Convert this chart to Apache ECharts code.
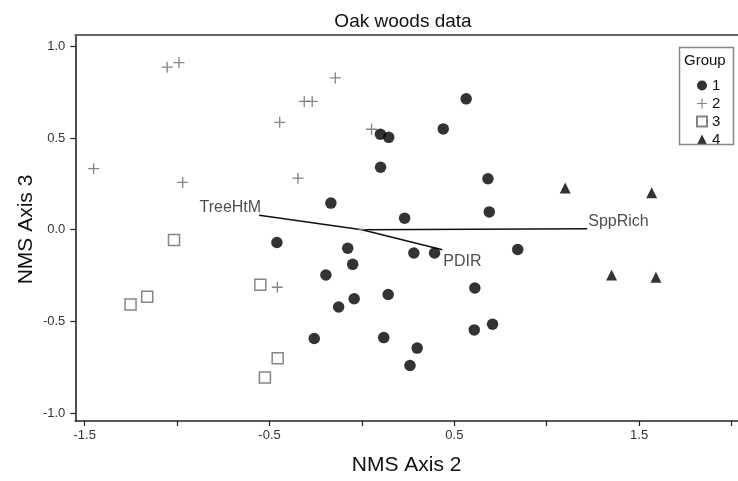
<!DOCTYPE html>
<html>
<head>
<meta charset="utf-8">
<script src="https://cdn.jsdelivr.net/npm/echarts@6/dist/echarts.min.js"></script>
<style>
html,body{margin:0;padding:0;background:#fff;}
#chart{width:738px;height:481px;}
</style>
</head>
<body>
<div id="chart"></div>
<script>
// ---- Data ----
const group1X = [0.564, 0.440, 0.100, 0.145, 0.101, 0.682, -0.168, 0.689, 0.231, -0.460, -0.077, 0.281, 0.393, 0.843, -0.050, -0.195, 0.611, 0.142, -0.042, -0.126, 0.707, 0.608, -0.258, 0.118, 0.299, 0.260];
const group1Y = [0.714, 0.550, 0.521, 0.504, 0.341, 0.278, 0.145, 0.097, 0.063, -0.070, -0.101, -0.127, -0.127, -0.108, -0.189, -0.247, -0.318, -0.354, -0.377, -0.422, -0.516, -0.547, -0.594, -0.589, -0.646, -0.741];
const group2X = [-1.054, -0.990, -0.144, -0.312, -0.269, -0.445, 0.052, -1.452, -0.970, -0.346, -0.458];
const group2Y = [0.887, 0.912, 0.828, 0.700, 0.700, 0.586, 0.548, 0.333, 0.258, 0.281, -0.314];
const group3X = [-1.017, -1.162, -1.252, -0.550, -0.456, -0.525];
const group3Y = [-0.056, -0.366, -0.408, -0.301, -0.702, -0.806];
const group4X = [1.100, 1.568, 1.351, 1.591];
const group4Y = [0.227, 0.202, -0.247, -0.260];
const groupNames = ['1', '2', '3', '4'];
const vectorNames = ['TreeHtM', 'SppRich', 'PDIR'];
const vectorX = [-0.556, 1.219, 0.435];
const vectorY = [0.079, 0.005, -0.110];
const xTickValues = [-1.5, -1.0, -0.5, 0.0, 0.5, 1.0, 1.5, 2.0];
const xLabelValues = [-1.5, -0.5, 0.5, 1.5];
const yTickValues = [-1.0, -0.5, 0.0, 0.5, 1.0];
const titleText = 'Oak woods data';
const xName = 'NMS Axis 2';
const yName = 'NMS Axis 3';
const legendTitle = 'Group';

const X_MIN = -1.551, X_MAX = 2.035, Y_MIN = -1.044, Y_MAX = 1.064;
const FONT = 'Liberation Sans, Arial, sans-serif';
const PLUS = 'path://M4.4,0H5.6V4.4H10V5.6H5.6V10H4.4V5.6H0V4.4H4.4Z';

const zip = (xs, ys) => xs.map((x, i) => [x, ys[i]]);

const vectorLabelCfg = [
  { position: 'left', distance: 0, offset: [2, -8] },
  { position: 'right', distance: 1, offset: [0, -7] },
  { position: 'right', distance: 1, offset: [0, 12] }
];

const series = [];
vectorNames.forEach((n, i) => {
  series.push({
    type: 'line', name: 'vec_' + n, data: [[0, 0], [vectorX[i], vectorY[i]]],
    symbol: 'none', silent: true, z: 1,
    lineStyle: { color: '#111', width: 1.6 }
  });
});
series.push({
  type: 'scatter', name: 'vecLabels', z: 3, silent: true,
  data: vectorNames.map((n, i) => ({
    value: [vectorX[i], vectorY[i]], name: n,
    label: Object.assign({ show: true, formatter: n }, vectorLabelCfg[i])
  })),
  symbolSize: 0.1, itemStyle: { color: 'rgba(0,0,0,0)' },
  label: { fontFamily: FONT, fontSize: 16, color: '#222' }
});
series.push({
  type: 'scatter', name: 'origin', silent: true, z: 2,
  data: [[0, 0]], symbol: PLUS, symbolSize: 7, itemStyle: { color: '#aaa' }
});
series.push({ type: 'scatter', name: '1', data: zip(group1X, group1Y), symbol: 'circle', symbolSize: 11.5, itemStyle: { color: '#000' }, z: 4 });
series.push({ type: 'scatter', name: '2', data: zip(group2X, group2Y), symbol: PLUS, symbolSize: 11, itemStyle: { color: '#666' }, z: 4 });
series.push({ type: 'scatter', name: '3', data: zip(group3X, group3Y), symbol: 'rect', symbolSize: 11, itemStyle: { color: '#fff', borderColor: '#666', borderWidth: 1.5 }, z: 4 });
series.push({ type: 'scatter', name: '4', data: zip(group4X, group4Y), symbol: 'triangle', symbolSize: 11, itemStyle: { color: '#000' }, z: 4 });

const fmt = v => Number(v).toFixed(1);

const option = {
  animation: false,
  backgroundColor: '#fff',
  textStyle: { fontFamily: FONT },
  title: {
    text: titleText, left: 398, top: 7, textAlign: 'center',
    textStyle: { fontFamily: FONT, fontSize: 19, fontWeight: 'normal', color: '#111' }
  },
  grid: { left: 75.3, right: 0, top: 34.7, bottom: 56.7 },
  xAxis: [{
    type: 'value', min: X_MIN, max: X_MAX, position: 'bottom',
    name: xName, nameLocation: 'middle', nameGap: 34,
    nameTextStyle: { fontFamily: FONT, fontSize: 21, color: '#111' },
    axisLine: { show: true, onZero: false, lineStyle: { color: '#222', width: 1.6 } },
    axisTick: { show: true, inside: false, length: 5, customValues: xTickValues, lineStyle: { color: '#222', width: 1.2 } },
    axisLabel: { show: true, margin: 8, customValues: xLabelValues, formatter: fmt, fontFamily: FONT, fontSize: 13, color: '#333' },
    splitLine: { show: false }
  }, {
    type: 'value', min: X_MIN, max: X_MAX, position: 'top',
    axisLine: { show: true, onZero: false, lineStyle: { color: '#666', width: 2 } },
    axisTick: { show: false }, axisLabel: { show: false }, splitLine: { show: false }
  }],
  yAxis: {
    type: 'value', min: Y_MIN, max: Y_MAX,
    axisLine: { show: true, onZero: false, lineStyle: { color: '#222', width: 1.6 } },
    axisTick: { show: true, inside: false, length: 5, customValues: yTickValues, lineStyle: { color: '#222', width: 1.2 } },
    axisLabel: { show: true, margin: 10, customValues: yTickValues, formatter: fmt, fontFamily: FONT, fontSize: 13, color: '#333' },
    splitLine: { show: false }
  },
  legend: {
    data: groupNames, orient: 'vertical', left: 691, top: 73,
    itemWidth: 10, itemHeight: 10, itemGap: 3, itemTextGap: 4,
    textStyle: { fontFamily: FONT, fontSize: 15, color: '#111' },
    selectedMode: false
  },
  graphic: [
    { type: 'rect', left: 677, top: 45, shape: { width: 54, height: 97 }, style: { fill: 'none', stroke: '#888', lineWidth: 1.5 }, z: 10 },
    { type: 'text', left: 684, top: 53, style: { text: legendTitle, fontFamily: FONT, fontSize: 15, fill: '#111' }, z: 10 },
    { type: 'text', x: 26, y: 229.5, rotation: Math.PI / 2, style: { text: yName, fontFamily: FONT, fontSize: 21, fill: '#111', align: 'center', verticalAlign: 'middle' }, z: 10 }
  ],
  series: series
};

const chart = echarts.init(document.getElementById('chart'), null, { renderer: 'canvas' });
chart.setOption(option);
</script>
</body>
</html>
